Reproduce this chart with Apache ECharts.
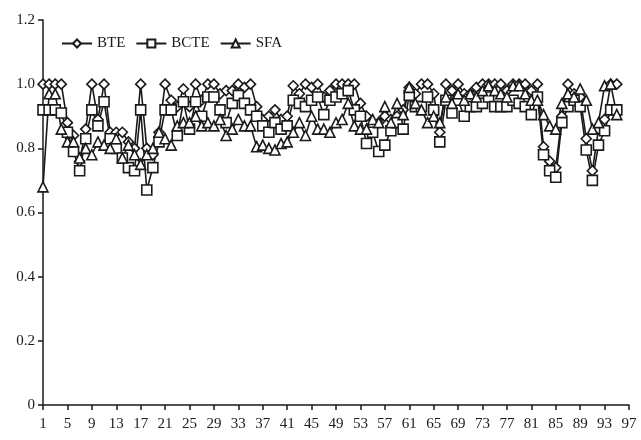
<!DOCTYPE html>
<html>
<head>
<meta charset="utf-8">
<script src="https://cdn.jsdelivr.net/npm/echarts@6/dist/echarts.min.js"></script>
<style>html,body{margin:0;padding:0;background:#fff}#c{width:641px;height:440px}</style>
</head>
<body>
<div id="c"></div>
<script>
const categories = Array.from({length: 97}, (_, i) => String(i + 1));
const yTicks = [0, 0.2, 0.4, 0.6, 0.8, 1.0, 1.2];
const BTE = [1.00,1.00,1.00,1.00,0.88,0.84,0.76,0.86,1.00,0.89,1.00,0.85,0.85,0.85,0.82,0.80,1.00,0.80,0.78,0.85,1.00,
0.95,0.93,0.985,0.93,1.00,0.95,1.00,1.00,0.97,0.98,0.98,1.00,0.99,1.00,0.93,0.89,0.90,0.92,0.89,0.90,
0.995,0.97,1.00,0.99,1.00,0.96,0.98,1.00,1.00,1.00,1.00,0.94,0.90,0.87,0.88,0.90,0.89,0.90,0.92,0.99,
0.97,1.00,1.00,0.97,0.85,1.00,0.98,1.00,0.97,0.97,0.99,1.00,1.00,1.00,1.00,0.98,1.00,1.00,1.00,
0.98,1.00,0.805,0.76,0.74,0.90,1.00,0.97,0.96,0.83,0.73,0.86,0.89,1.00,1.00];
const BCTE = [0.92,0.92,0.92,0.91,0.85,0.79,0.73,0.83,0.92,0.87,0.945,0.83,0.80,0.77,0.74,0.73,0.92,0.67,0.74,0.82,0.92,
0.92,0.84,0.945,0.86,0.945,0.90,0.96,0.96,0.92,0.88,0.94,0.965,0.94,0.92,0.90,0.87,0.85,0.88,0.86,0.87,
0.95,0.94,0.93,0.95,0.96,0.905,0.95,0.96,0.97,0.98,0.92,0.90,0.815,0.85,0.79,0.81,0.855,0.88,0.86,0.965,
0.93,0.93,0.96,0.92,0.82,0.95,0.91,0.95,0.90,0.93,0.93,0.94,0.96,0.93,0.93,0.93,0.95,0.94,0.93,
0.905,0.96,0.78,0.73,0.71,0.88,0.93,0.95,0.93,0.795,0.70,0.81,0.855,0.92,0.92];
const SFA = [0.68,0.97,0.97,0.86,0.82,0.82,0.77,0.80,0.78,0.82,0.81,0.80,0.83,0.77,0.81,0.78,0.75,0.78,0.80,0.85,0.83,
0.81,0.87,0.88,0.88,0.90,0.87,0.88,0.87,0.89,0.84,0.86,0.89,0.87,0.87,0.805,0.81,0.80,0.795,0.815,0.82,
0.85,0.88,0.84,0.90,0.86,0.86,0.85,0.88,0.89,0.94,0.87,0.86,0.86,0.89,0.88,0.93,0.88,0.94,0.905,0.99,
0.94,0.92,0.88,0.90,0.88,0.96,0.94,0.97,0.95,0.97,0.96,0.98,0.995,0.98,0.97,0.96,0.995,0.995,0.97,
0.95,0.95,0.905,0.87,0.86,0.94,0.97,0.96,0.985,0.95,0.86,0.88,0.995,1.00,0.905];

const ink = '#1a1a1a';
const font = 'Liberation Serif';
function mk(name, data, symbol) {
  return {
    name, type: 'line', data, symbol, symbolSize: 10, showSymbol: true, showAllSymbol: true,
    lineStyle: {color: ink, width: 1.6},
    itemStyle: {color: '#fff', borderColor: ink, borderWidth: 1.6},
    emphasis: {disabled: true}, animation: false
  };
}
const chart = echarts.init(document.getElementById('c'), null, {renderer: 'canvas'});
chart.setOption({
  backgroundColor: '#fff',
  animation: false,
  grid: {left: 43, right: 12, top: 20, bottom: 35, containLabel: false},
  legend: {
    left: 56, top: 31, itemWidth: 30, itemHeight: 10, itemGap: 10,
    textStyle: {fontFamily: font, fontSize: 15, color: ink},
    data: ['BTE', 'BCTE', 'SFA']
  },
  xAxis: {
    type: 'category', data: categories, boundaryGap: false,
    axisLine: {lineStyle: {color: ink, width: 1.5}},
    axisTick: {interval: 3, length: 5, lineStyle: {color: ink, width: 1.5}},
    axisLabel: {interval: 3, margin: 12, fontFamily: font, fontSize: 15, color: ink},
    splitLine: {show: false}
  },
  yAxis: {
    type: 'value', min: 0, max: 1.2, interval: 0.2,
    axisLine: {show: true, lineStyle: {color: ink, width: 1.5}},
    axisTick: {show: true, length: 5, lineStyle: {color: ink, width: 1.5}},
    axisLabel: {margin: 8, fontFamily: font, fontSize: 15, color: ink,
      formatter: v => (Math.abs(v) < 1e-9 ? '0' : v.toFixed(1))},
    splitLine: {show: false}
  },
  series: [mk('BTE', BTE, 'diamond'), mk('BCTE', BCTE, 'rect'), mk('SFA', SFA, 'triangle')]
});
</script>
</body>
</html>
